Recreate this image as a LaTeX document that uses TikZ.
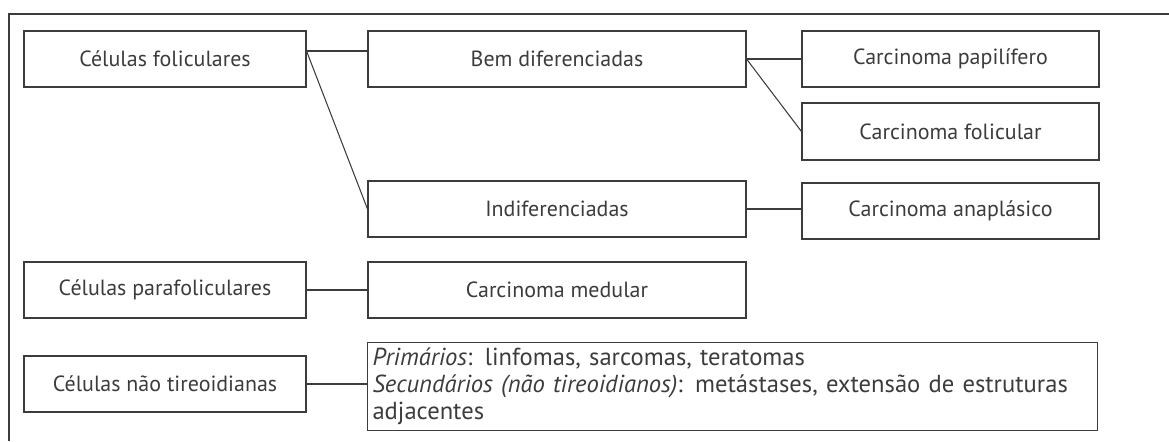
\documentclass[tikz,border=0pt]{standalone}
\usepackage{fontspec}
\setmainfont{PT Sans}
\usepackage{tikz}
\usetikzlibrary{calc,positioning}
\definecolor{mygray}{RGB}{60,60,60}
\begin{document}
\begin{tikzpicture}[
  line width=0.6pt,
  draw=mygray,
  mybox/.style={
    draw=mygray,
    rectangle,
    minimum height=1.12cm,
    minimum width=#1,
    inner sep=0pt,
    text=mygray,
    font=\fontsize{12.5}{13.5}\selectfont
    }
]
\useasboundingbox (0,0) rectangle (23.38,-8.82);
\draw[mygray] (23.38,-0.28) -- (0.18,-0.28) -- (0.18,-8.82);

\node[mybox=5.64cm] (folic) at (3.30,-1.18) {Células foliculares};
\node[mybox=7.56cm] (bemdif) at (11.14,-1.18) {Bem diferenciadas};
\node[mybox=5.94cm] (papil) at (19.01,-1.18) {Carcinoma papilífero};
\node[mybox=5.94cm, minimum height=1.14cm] (folcar) at (19.01,-2.63) {Carcinoma folicular};
\node[mybox=7.56cm] (indif) at (11.14,-4.18) {Indiferenciadas};
\node[mybox=5.94cm] (anapl) at (19.01,-4.22) {Carcinoma anaplásico};
\node[mybox=5.64cm] (parafol) at (3.30,-5.80) {Células parafoliculares};
\node[mybox=7.56cm] (medul) at (11.14,-5.80) {Carcinoma medular};
\node[mybox=5.64cm] (naotir) at (3.30,-7.68) {Células não tireoidianas};
\node[mybox=14.58cm, minimum height=1.74cm, text width=14.4cm, align=left, inner sep=3pt,
  font=\fontsize{14}{15.5}\selectfont] (outros) at (14.65,-7.73)
  {\textit{Primários}: linfomas, sarcomas, teratomas\\
   \textit{Secundários (não tireoidianos)}: metástases, extensão de estruturas\\
   adjacentes};

\coordinate (fa) at ($(folic.north east)!0.36!(folic.south east)$);
\draw (fa) -- (fa -| bemdif.west);
\draw (fa) -- (indif.west);
\draw (bemdif.east) -- (papil.west);
\draw (bemdif.east) -- (folcar.west);
\draw (indif.east) -- (indif.east -| anapl.west);
\draw (parafol) -- (medul);
\draw (naotir) -- (naotir -| outros.west);
\end{tikzpicture}
\end{document}
